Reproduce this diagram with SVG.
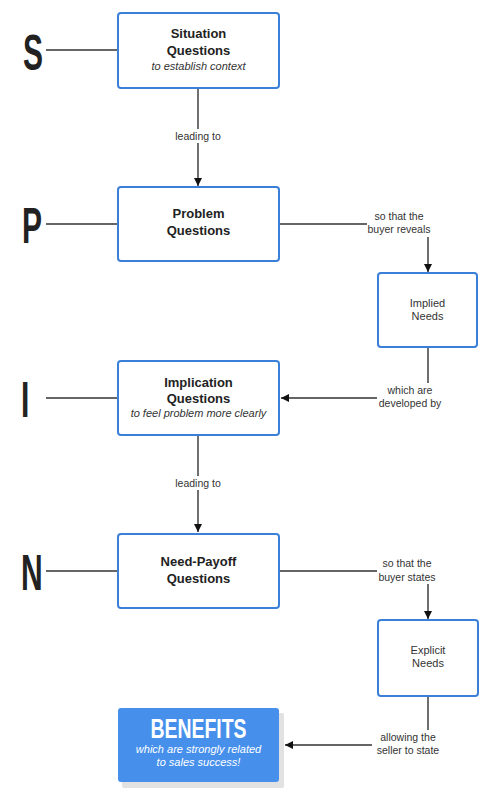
<svg xmlns="http://www.w3.org/2000/svg" width="501" height="796" viewBox="0 0 501 796">
<defs>
<marker id="arr" viewBox="0 0 10 10" refX="10" refY="5" markerWidth="8" markerHeight="8" markerUnits="userSpaceOnUse" orient="auto">
<path d="M0,0 L10,5 L0,10 z" fill="#111"/>
</marker>
<style>
.box{fill:#fff;stroke:#3b80d8;stroke-width:2}
.t{font-family:"Liberation Sans",Arial,sans-serif;font-size:13px;font-weight:bold;fill:#222;text-anchor:middle}
.it{font-family:"Liberation Sans",Arial,sans-serif;font-size:11px;font-style:italic;fill:#333;text-anchor:middle}
.sm{font-family:"Liberation Sans",Arial,sans-serif;font-size:11px;fill:#333;text-anchor:middle}
.lbl{font-family:"Liberation Sans",Arial,sans-serif;font-size:10.5px;fill:#333;text-anchor:middle}
.big{font-family:"Liberation Sans",Arial,sans-serif;font-size:50px;font-weight:bold;fill:#222}
.ln{fill:none;stroke:#333;stroke-width:1.4}
.bg{fill:#fff}
.wt{font-family:"Liberation Sans",Arial,sans-serif;fill:#fff;text-anchor:middle}
</style>
</defs>
<rect width="501" height="796" fill="#fff"/>

<g id="connectors">
<line class="ln" x1="46" y1="50" x2="118" y2="50"/>
<line class="ln" x1="46" y1="224" x2="118" y2="224"/>
<line class="ln" x1="46" y1="398" x2="118" y2="398"/>
<line class="ln" x1="46" y1="571" x2="118" y2="571"/>
<line class="ln" x1="198" y1="88" x2="198" y2="186" marker-end="url(#arr)"/>
<line class="ln" x1="198" y1="435" x2="198" y2="532" marker-end="url(#arr)"/>
<path class="ln" d="M279,224 H428 V272" marker-end="url(#arr)"/>
<path class="ln" d="M428,347 V398 H281" marker-end="url(#arr)"/>
<path class="ln" d="M279,571 H428 V619" marker-end="url(#arr)"/>
<path class="ln" d="M428,696 V745 H285" marker-end="url(#arr)"/>
<rect class="bg" x="172" y="129" width="52" height="14"/>
<text class="lbl" x="198" y="140">leading to</text>
<rect class="bg" x="172" y="476" width="52" height="14"/>
<text class="lbl" x="198" y="487">leading to</text>
<rect class="bg" x="367" y="209" width="66" height="28"/>
<text class="lbl" x="399" y="220">so that the</text>
<text class="lbl" x="399" y="233">buyer reveals</text>
<rect class="bg" x="377" y="383" width="68" height="28"/>
<text class="lbl" x="410" y="394">which are</text>
<text class="lbl" x="410" y="407">developed by</text>
<rect class="bg" x="377" y="556" width="62" height="28"/>
<text class="lbl" x="407" y="567">so that the</text>
<text class="lbl" x="407" y="581">buyer states</text>
<rect class="bg" x="372" y="730" width="72" height="28"/>
<text class="lbl" x="408" y="741">allowing the</text>
<text class="lbl" x="408" y="754">seller to state</text>
</g>

<g id="letter-S"><text class="big" transform="translate(23,70) scale(0.6,1)">S</text></g>
<g id="letter-P"><text class="big" transform="translate(22,243) scale(0.6,1)">P</text></g>
<g id="letter-I"><text class="big" transform="translate(21,417) scale(0.6,1)">I</text></g>
<g id="letter-N"><text class="big" transform="translate(21,590) scale(0.6,1)">N</text></g>

<g id="situation">
<rect class="box" x="118" y="13" width="161" height="75" rx="3"/>
<text class="t" x="198.5" y="38">Situation</text>
<text class="t" x="198.5" y="55">Questions</text>
<text class="it" x="198.5" y="70">to establish context</text>
</g>

<g id="problem">
<rect class="box" x="118" y="187" width="161" height="74" rx="3"/>
<text class="t" x="198.5" y="218">Problem</text>
<text class="t" x="198.5" y="235">Questions</text>
</g>

<g id="implied-needs">
<rect class="box" x="378" y="273" width="99" height="74" rx="3"/>
<text class="sm" x="427.5" y="307">Implied</text>
<text class="sm" x="427.5" y="320">Needs</text>
</g>

<g id="implication">
<rect class="box" x="118" y="361" width="161" height="74" rx="3"/>
<text class="t" x="198.5" y="387">Implication</text>
<text class="t" x="198.5" y="403">Questions</text>
<text class="it" x="198.5" y="417">to feel problem more clearly</text>
</g>

<g id="need-payoff">
<rect class="box" x="118" y="534" width="161" height="74" rx="3"/>
<text class="t" x="198.5" y="566">Need-Payoff</text>
<text class="t" x="198.5" y="583">Questions</text>
</g>

<g id="explicit-needs">
<rect class="box" x="378" y="620" width="100" height="76" rx="3"/>
<text class="sm" x="428" y="654">Explicit</text>
<text class="sm" x="428" y="667">Needs</text>
</g>

<g id="benefits">
<rect x="122" y="713" width="162" height="75" rx="2" fill="#e2e2e2"/>
<rect x="118" y="708" width="161" height="74" rx="3" fill="#4690ec"/>
<text class="wt" transform="translate(198.5,738) scale(0.72,1)" style="font-size:27px;font-weight:bold">BENEFITS</text>
<text class="wt" x="198.5" y="753" style="font-size:11px;font-style:italic">which are strongly related</text>
<text class="wt" x="198.5" y="766" style="font-size:11px;font-style:italic">to sales success!</text>
</g>
</svg>
